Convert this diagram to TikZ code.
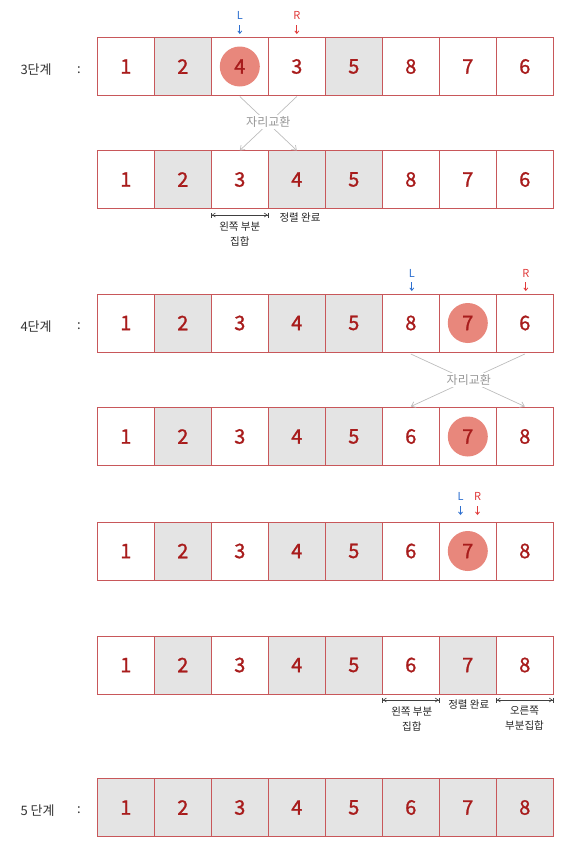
\documentclass[tikz,border=0pt]{standalone}
\usepackage{fontspec}
\setmainfont{Noto Sans CJK KR}
\newfontfamily\numfont[FakeBold=1.2]{Noto Sans CJK KR}
\usetikzlibrary{arrows.meta,backgrounds}
\definecolor{cellline}{HTML}{C8575A}
\definecolor{cellgray}{HTML}{E4E4E4}
\definecolor{numred}{HTML}{A81C1C}
\definecolor{dotred}{HTML}{E8877C}
\definecolor{lblue}{HTML}{2D6FCF}
\definecolor{rred}{HTML}{E03A3A}
\definecolor{swapgray}{HTML}{BDBDBD}
\definecolor{txtgray}{HTML}{333333}
\tikzset{
  cell/.style={draw=cellline, line width=0.8pt, minimum width=57pt, minimum height=58pt,
    inner sep=0pt, outer sep=0pt, text=numred, font=\numfont\fontsize{20}{24}\selectfont},
  dot/.style={circle, fill=dotred, minimum size=40pt, inner sep=0pt},
  steplabel/.style={anchor=west, text=txtgray, font=\fontsize{13}{15}\selectfont},
  colonlabel/.style={text=txtgray, font=\fontsize{13}{15}\selectfont},
  ltxt/.style={text=lblue, font=\fontsize{11}{12}\selectfont, inner sep=1pt},
  rtxt/.style={text=rred, font=\fontsize{11}{12}\selectfont, inner sep=1pt},
  ptr/.style={-{Straight Barb[length=2.5pt,width=4pt]}, line width=0.8pt},
  swapline/.style={draw=swapgray, line width=0.7pt, -{Straight Barb[length=4pt,width=6pt]}},
  swaptxt/.style={fill=white, text=swapgray!80!black, font=\fontsize{12}{14}\selectfont, inner sep=2pt},
  span/.style={draw=black!75, line width=0.6pt,
    {Bar[width=5pt]Straight Barb[length=3pt,width=4pt]}-{Straight Barb[length=3pt,width=4pt]Bar[width=5pt]}},
  note/.style={text=black!85, align=center, font=\fontsize{10.5}{15}\selectfont, inner sep=0pt},
}
\newcommand\cellrow[3]{%
  \foreach \v/\f [count=\i] in {#3} {
    \node[cell, fill=\f] (#1-\i) at ({97.3+57*(\i-0.5)}, {#2+29}) {\v};
  }}
\begin{document}
\begin{tikzpicture}[x=1pt, y=-1pt]
\useasboundingbox (0,0) rectangle (566,849);

% rows
\cellrow{r1}{37.5}{1/none,2/cellgray,4/none,3/none,5/cellgray,8/none,7/none,6/none}
\cellrow{r2}{150.5}{1/none,2/cellgray,3/none,4/cellgray,5/cellgray,8/none,7/none,6/none}
\cellrow{r3}{294}{1/none,2/cellgray,3/none,4/cellgray,5/cellgray,8/none,7/none,6/none}
\cellrow{r4}{407.5}{1/none,2/cellgray,3/none,4/cellgray,5/cellgray,6/none,7/none,8/none}
\cellrow{r5}{522}{1/none,2/cellgray,3/none,4/cellgray,5/cellgray,6/none,7/none,8/none}
\cellrow{r6}{636}{1/none,2/cellgray,3/none,4/cellgray,5/cellgray,6/none,7/cellgray,8/none}
\cellrow{r7}{778.5}{1/cellgray,2/cellgray,3/cellgray,4/cellgray,5/cellgray,6/cellgray,7/cellgray,8/cellgray}

% pivot circles
\begin{scope}[on background layer]
  \node[dot] (d1) at (r1-3) {};
  \node[dot] (d3) at (r3-7) {};
  \node[dot] (d4) at (r4-7) {};
  \node[dot] (d5) at (r5-7) {};
\end{scope}

% step labels
\node[steplabel] (s3) at (17,70) {3단계};
\node[colonlabel] (c3) at (79,70) {:};
\node[steplabel] (s4) at (17,326.5) {4단계};
\node[colonlabel] (c4) at (79,326.5) {:};
\node[steplabel] (s5) at (17,810.5) {5 단계};
\node[colonlabel] (c5) at (79,810.5) {:};

% L / R pointers
\node[ltxt] (L1) at (239.8,15) {L};
\coordinate (L1a) at (239.8,25); \coordinate (L1b) at (239.8,34);
\draw[ptr, lblue] (L1a) -- (L1b);
\node[rtxt] (R1) at (296.8,15) {R};
\coordinate (R1a) at (296.8,25); \coordinate (R1b) at (296.8,34);
\draw[ptr, rred] (R1a) -- (R1b);

\node[ltxt] (L3) at (411.8,273) {L};
\coordinate (L3a) at (411.8,282); \coordinate (L3b) at (411.8,291);
\draw[ptr, lblue] (L3a) -- (L3b);
\node[rtxt] (R3) at (525.8,273) {R};
\coordinate (R3a) at (525.8,282); \coordinate (R3b) at (525.8,291);
\draw[ptr, rred] (R3a) -- (R3b);

\node[ltxt] (L5) at (460.5,496) {L};
\coordinate (L5a) at (460.5,506); \coordinate (L5b) at (460.5,515);
\draw[ptr, lblue] (L5a) -- (L5b);
\node[rtxt] (R5) at (477.5,496) {R};
\coordinate (R5a) at (477.5,506); \coordinate (R5b) at (477.5,515);
\draw[ptr, rred] (R5a) -- (R5b);

% swaps
\draw[swapline] ([yshift=-1pt]r1-3.south) -- (r2-4.north);
\draw[swapline] ([yshift=-1pt]r1-4.south) -- (r2-3.north);
\node[swaptxt] (sw1) at (268.3,122) {자리교환};

\draw[swapline] ([yshift=-2pt]r3-6.south) -- ([yshift=1pt]r4-8.north);
\draw[swapline] ([yshift=-2pt]r3-8.south) -- ([yshift=1pt]r4-6.north);
\node[swaptxt] (sw3) at (468.8,380) {자리교환};

% row 2 notes
\draw[span] ([yshift=-6.5pt]r2-3.south west) -- ([yshift=-6.5pt]r2-3.south east);
\node[note] (n2a) at (239.8,234.5) {왼쪽 부분\\집합};
\node[note] (n2b) at (300,218) {정렬 완료};

% row 6 notes
\draw[span] ([yshift=-6pt]r6-6.south west) -- ([yshift=-6pt]r6-6.south east);
\node[note] (n6a) at (411.8,719) {왼쪽 부분\\집합};
\node[note] (n6b) at (468.8,705) {정렬 완료};
\draw[span] ([yshift=-6pt]r6-8.south west) -- ([yshift=-6pt]r6-8.south east);
\node[note] (n6c) at (524.5,718.5) {오른쪽\\부분집합};
\end{tikzpicture}
\end{document}
